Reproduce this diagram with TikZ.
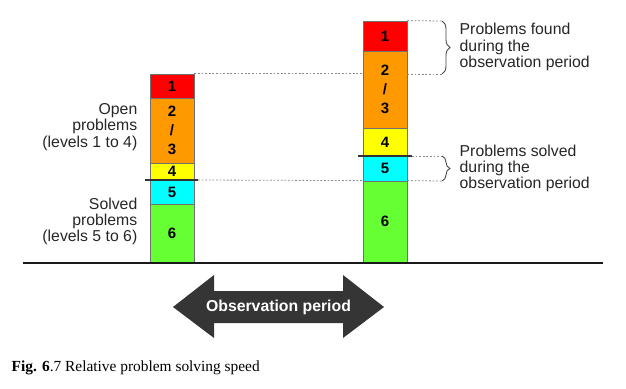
\documentclass[tikz,border=0pt]{standalone}
\usepackage{fontspec}
\setmainfont{Liberation Serif}
\newfontfamily\arial{Liberation Sans}
\usetikzlibrary{decorations.pathreplacing}
\definecolor{cRed}{HTML}{FF0000}
\definecolor{cOrange}{HTML}{FF9900}
\definecolor{cYellow}{HTML}{FFFF00}
\definecolor{cCyan}{HTML}{00FFFF}
\definecolor{cGreen}{HTML}{66FF33}
\definecolor{segline}{HTML}{707070}
\definecolor{dashgray}{HTML}{8A8A8A}
\definecolor{darkline}{HTML}{333333}
\definecolor{arrowgray}{HTML}{353535}
\begin{document}
\begin{tikzpicture}[x=1pt,y=-1pt,
  seg/.style={draw=segline, line width=0.8pt, minimum width=44pt, inner sep=0pt,
    font=\arial\fontsize{15}{18.8}\selectfont\bfseries, align=center, text=black},
  dashline/.style={draw=dashgray, line width=0.8pt, dash pattern=on 1.8pt off 1.8pt},
  cutline/.style={draw=darkline, line width=2pt},
  bracestyle/.style={draw=darkline!90, line width=0.9pt, decorate,
    decoration={brace, amplitude=8pt}},
  lbl/.style={inner sep=0pt, font=\arial\fontsize{15.8}{16.4}\selectfont, text=black!85}]
\useasboundingbox (0,0) rectangle (626,388);

% left bar
\node[seg, fill=cRed,    minimum height=24pt] (L1)  at (172,86)    {1};
\node[seg, fill=cOrange, minimum height=65pt] (L23) at (172,130.5) {2\\/\\3};
\node[seg, fill=cYellow, minimum height=17pt] (L4)  at (172,171.5) {4};
\node[seg, fill=cCyan,   minimum height=24pt] (L5)  at (172,192)   {5};
\node[seg, fill=cGreen,  minimum height=58pt] (L6)  at (172,233)   {6};

% right bar
\node[seg, fill=cRed,    minimum height=30pt] (R1)  at (385,36)    {1};
\node[seg, fill=cOrange, minimum height=77pt] (R23) at (385,89.5)  {2\\/\\3};
\node[seg, fill=cYellow, minimum height=28pt] (R4)  at (385,142)   {4};
\node[seg, fill=cCyan,   minimum height=25pt] (R5)  at (385,168.5) {5};
\node[seg, fill=cGreen,  minimum height=81pt] (R6)  at (385,221.5) {6};

% baseline
\coordinate (basel) at (23,263);
\coordinate (baser) at (603,263);
\draw[draw=black!90, line width=2.6pt] (basel) -- (baser);

% cut lines
\coordinate (lcutl) at (145,180);
\coordinate (lcutr) at (198,180);
\coordinate (rcutl) at (358,156);
\coordinate (rcutr) at (412,156);
\draw[cutline] (lcutl) -- (lcutr);
\draw[cutline] (rcutl) -- (rcutr);

% dashed guide lines
\coordinate (b1t) at (442,21);
\coordinate (b1b) at (442,74);
\coordinate (b2t) at (442,156);
\coordinate (b2b) at (442,181);
\draw[dashline] (L1.north east) -- (R23.west |- L1.north east);
\draw[dashline] (lcutr) -- (R6.north west);
\draw[dashline] (R1.north east) -- (b1t);
\draw[dashline] (R23.east |- b1b) -- (b1b);
\draw[dashline] (rcutr) -- (b2t);
\draw[dashline] (R6.north east) -- (b2b);

% braces
\draw[bracestyle] (b1t) -- (b1b);
\draw[bracestyle] (b2t) -- (b2b);

% labels
\node[lbl, anchor=east, align=right] (openlbl) at (137.5,127) {Open\\problems\\(levels 1 to 4)};
\node[lbl, anchor=east, align=right] (solvedlbl) at (137.5,221.5) {Solved\\problems\\(levels 5 to 6)};
\node[lbl, anchor=west, align=left] (foundlbl) at (459.5,47) {Problems found\\during the\\observation period};
\node[lbl, anchor=west, align=left] (solvlbl) at (459.5,168.5) {Problems solved\\during the\\observation period};

% observation arrow
\fill[arrowgray] (173,307) -- (214,275) -- (214,291) -- (343,291) -- (343,275) -- (384,307)
  -- (343,338) -- (343,323) -- (214,323) -- (214,338) -- cycle;
\node[inner sep=0pt, text=white, font=\arial\fontsize{15.8}{16}\selectfont\bfseries] (obs) at (278.5,307) {Observation period};

% caption
\node[inner sep=0pt, anchor=west, font=\fontsize{15.4}{16}\selectfont] (caption) at (11.5,368) {\textbf{Fig. 6}.7 Relative problem solving speed};
\end{tikzpicture}
\end{document}
